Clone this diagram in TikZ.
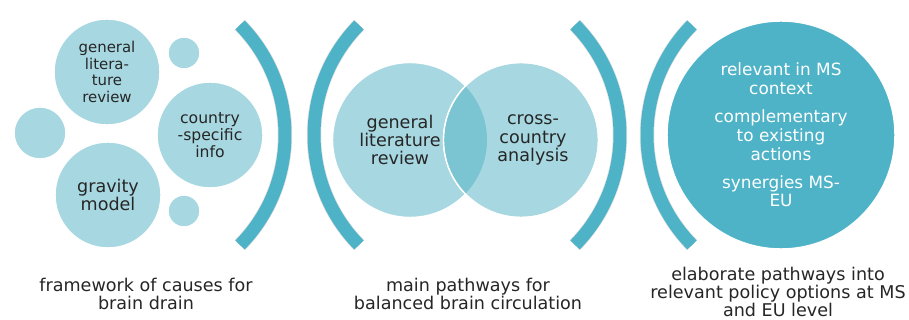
\documentclass[tikz,border=0pt]{standalone}
\usepackage{fontspec}
\setmainfont{DejaVu Sans}
\usetikzlibrary{shapes,positioning,calc}
\definecolor{tealdark}{HTML}{4FB3C8}
\definecolor{teallight}{HTML}{A7D8E1}
\definecolor{tealmid}{HTML}{7BC5D3}
\definecolor{inktext}{HTML}{262626}

\begin{document}
\begin{tikzpicture}[x=0.02cm,y=0.02cm,
  bubble/.style={circle,fill=teallight,draw=white,line width=0.8pt,inner sep=0pt,minimum size=#1,text=inktext,align=center},
  bracket/.style={draw=tealdark,line width=0.26cm},
  bracketedge/.style={draw=gray!22,line width=0.29cm},
  caption/.style={align=center,text=inktext,font=\fontsize{10}{10.5}\selectfont}]
\useasboundingbox (0,0) rectangle (909,-320);

% left cluster
\node[bubble=2.12cm,font=\fontsize{8.5}{9.6}\selectfont] (litreview) at (107,-72) {general\\litera-\\ture\\review};
\node[bubble=0.64cm] (dottop) at (184,-53) {};
\node[bubble=1.04cm] (dotleft) at (40,-133) {};
\node[bubble=2.12cm,font=\fontsize{8.9}{9.6}\selectfont] (countryinfo) at (210,-135) {country\\-specific\\info};
\node[bubble=2.12cm,font=\fontsize{10}{10.4}\selectfont] (gravity) at (108,-195) {gravity\\model};
\node[bubble=0.64cm] (dotbottom) at (184,-211) {};

% brackets
\foreach \cx/\ang in {128/0,471/180,463/0,804/180}{
  \draw[bracketedge] (\cx,-135) ++(\ang-44.5:157) arc[start angle=\ang-44.5,end angle=\ang+44.5,radius=157];
  \draw[bracket] (\cx,-135) ++(\ang-44.5:157) arc[start angle=\ang-44.5,end angle=\ang+44.5,radius=157];
}

% venn
\node[bubble=3.1cm] (genlit) at (410,-140) {};
\node[bubble=3.1cm] (crosscountry) at (521,-140) {};
\begin{scope}
  \clip (genlit.center) circle[radius=77];
  \fill[tealmid] (crosscountry.center) circle[radius=77];
\end{scope}
\draw[white,line width=0.8pt] (crosscountry.center) circle[radius=77.5];
\node[text=inktext,align=center,font=\fontsize{10}{10.5}\selectfont] (genlittext) at (400,-140) {general\\literature\\review};
\node[text=inktext,align=center,font=\fontsize{10}{10.5}\selectfont] (crosstext) at (533,-140) {cross-\\country\\analysis};

% policy circle
\node[bubble=4.56cm,fill=tealdark,text=white,font=\fontsize{9.6}{10.8}\selectfont] (policy) at (781,-135) {relevant in MS\\context\\[5pt]complementary\\to existing\\actions\\[5pt]synergies MS-\\EU};

% captions
\node[caption] (causes) at (146,-294) {framework of causes for\\brain drain};
\node[caption] (pathways) at (468,-294) {main pathways for\\balanced brain circulation};
\node[caption] (options) at (778,-292) {elaborate pathways into\\relevant policy options at MS\\and EU level};
\end{tikzpicture}
\end{document}
